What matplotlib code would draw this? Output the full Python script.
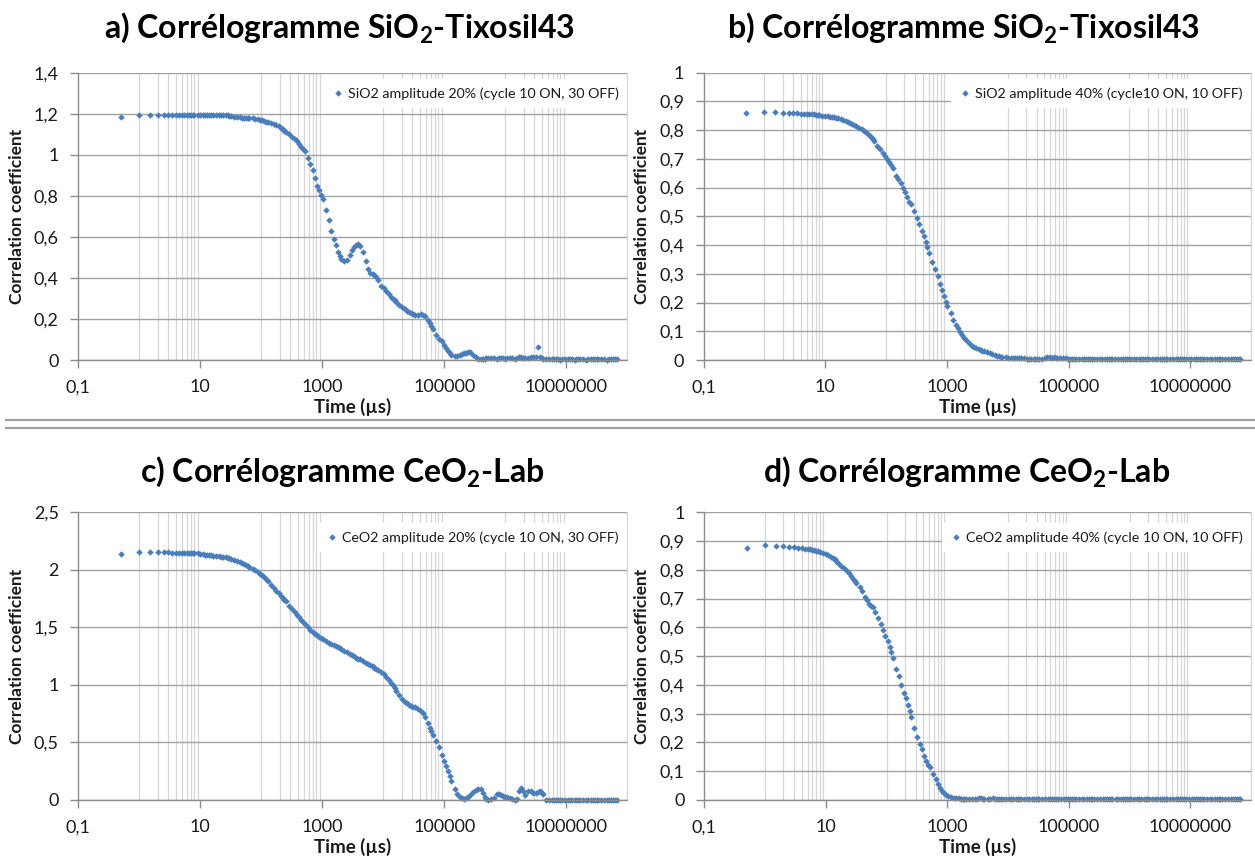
import matplotlib
matplotlib.use("Agg")
import matplotlib.pyplot as plt
from matplotlib.ticker import FixedLocator, FuncFormatter, NullFormatter
from matplotlib.lines import Line2D

# Correlator lag times (µs), shared by all four measurements
LAG_US = [0.5, 1, 1.5, 2, 2.5, 3, 3.5, 4, 4.5, 5, 5.5, 6, 6.5, 7, 7.5, 8,
          9, 10, 11, 12, 13, 14, 15, 16,
          18, 20, 22, 24, 26, 28, 30, 32,
          36, 40, 44, 48, 52, 56, 60, 64,
          72, 80, 88, 96, 104, 112, 120, 128,
          144, 160, 176, 192, 208, 224, 240, 256,
          288, 320, 352, 384, 416, 448, 480, 512,
          576, 640, 704, 768, 832, 896, 960, 1024,
          1152, 1280, 1408, 1536, 1664, 1792, 1920, 2048,
          2304, 2560, 2816, 3072, 3328, 3584, 3840, 4096,
          4608, 5120, 5632, 6144, 6656, 7168, 7680, 8192,
          9216, 10240, 11264, 12288, 13312, 14336, 15360, 16384,
          18432, 20480, 22528, 24576, 26624, 28672, 30720, 32768,
          36864, 40960, 45056, 49152, 53248, 57344, 61440, 65536,
          73728, 81920, 90112, 98304, 106496, 114688, 122880, 131072,
          147456, 163840, 180224, 196608, 212992, 229376, 245760, 262144,
          294912, 327680, 360448, 393216, 425984, 458752, 491520, 524288,
          589824, 655360, 720896, 786432, 851968, 917504, 983040, 1048576,
          1179648, 1310720, 1441792, 1572864, 1703936, 1835008, 1966080, 2097152,
          2359296, 2621440, 2883584, 3145728, 3407872, 3670016, 3932160, 4194304,
          4718592, 5242880, 5767168, 6291456, 6815744, 7340032, 7864320, 8388608,
          9437184, 10485760, 11534336, 12582912, 13631488, 14680064, 15728640, 16777216,
          18874368, 20971520, 23068672, 25165824, 27262976, 29360128, 31457280, 33554432,
          37748736, 41943040, 46137344, 50331648, 54525952, 58720256, 62914560, 67108864]

# a) SiO2 amplitude 20% (cycle 10 ON, 30 OFF)
SIO2_20 = [1.184, 1.193, 1.194, 1.194, 1.194, 1.195, 1.195, 1.195, 1.195, 1.195, 1.195, 1.195, 1.195, 1.195, 1.195, 1.195,
           1.195, 1.195, 1.195, 1.195, 1.195, 1.195, 1.195, 1.195,
           1.195, 1.195, 1.195, 1.194, 1.195, 1.194, 1.190, 1.188,
           1.184, 1.182, 1.182, 1.181, 1.181, 1.181, 1.180, 1.180,
           1.178, 1.176, 1.174, 1.171, 1.168, 1.165, 1.162, 1.159,
           1.155, 1.150, 1.144, 1.138, 1.131, 1.124, 1.117, 1.110,
           1.100, 1.089, 1.077, 1.065, 1.053, 1.040, 1.030, 1.018,
           0.985, 0.955, 0.925, 0.885, 0.850, 0.830, 0.805, 0.785,
           0.730, 0.680, 0.628, 0.590, 0.560, 0.527, 0.506, 0.492,
           0.480, 0.489, 0.512, 0.538, 0.553, 0.562, 0.564, 0.555,
           0.525, 0.484, 0.443, 0.426, 0.418, 0.412, 0.403, 0.392,
           0.363, 0.349, 0.338, 0.322, 0.306, 0.298, 0.290, 0.282,
           0.268, 0.259, 0.250, 0.241, 0.234, 0.227, 0.222, 0.219,
           0.219, 0.223, 0.221, 0.214, 0.197, 0.182, 0.168, 0.150,
           0.122, 0.104, 0.092, 0.075, 0.058, 0.042, 0.033, 0.026,
           0.019, 0.021, 0.024, 0.028, 0.032, 0.036, 0.040, 0.038,
           0.025, 0.015, 0.007, 0.004, 0.004, 0.006, 0.008, 0.010,
           0.011, 0.008, 0.006, 0.010, 0.012, 0.008, 0.005, 0.009,
           0.012, 0.010, 0.006, 0.008, 0.013, 0.015, 0.011, 0.008,
           0.012, 0.016, 0.014, 0.016, 0.062, 0.013, 0.008, 0.005,
           0.004, 0.003, 0.003, 0.004, 0.003, 0.003, 0.002, 0.003,
           0.003, 0.003, 0.004, 0.003, 0.002, 0.003, 0.003, 0.003,
           0.003, 0.002, 0.003, 0.003, 0.003, 0.004, 0.003, 0.003,
           0.003, 0.003, 0.002, 0.003, 0.003, 0.003, 0.003, 0.003]

# b) SiO2 amplitude 40% (cycle 10 ON, 10 OFF)
SIO2_40 = [0.858, 0.863, 0.862, 0.860, 0.859, 0.858, 0.858, 0.857, 0.857, 0.856, 0.856, 0.855, 0.855, 0.854, 0.854, 0.853,
           0.851, 0.850, 0.849, 0.847, 0.846, 0.845, 0.843, 0.842,
           0.839, 0.836, 0.833, 0.829, 0.826, 0.822, 0.818, 0.814,
           0.809, 0.803, 0.796, 0.789, 0.782, 0.776, 0.769, 0.762,
           0.746, 0.734, 0.722, 0.711, 0.700, 0.688, 0.678, 0.667,
           0.642, 0.630, 0.616, 0.600, 0.585, 0.566, 0.551, 0.542,
           0.518, 0.494, 0.472, 0.450, 0.430, 0.410, 0.392, 0.372,
           0.340, 0.316, 0.292, 0.264, 0.243, 0.224, 0.202, 0.188,
           0.165, 0.140, 0.122, 0.110, 0.097, 0.086, 0.077, 0.070,
           0.058, 0.049, 0.044, 0.041, 0.038, 0.035, 0.032, 0.030,
           0.027, 0.023, 0.020, 0.017, 0.015, 0.013, 0.011, 0.010,
           0.009, 0.008, 0.008, 0.007, 0.007, 0.007, 0.006, 0.006,
           0.006, 0.005, 0.005, 0.004, 0.004, 0.003, 0.003, 0.004,
           0.005, 0.007, 0.009, 0.009, 0.008, 0.009, 0.007, 0.006,
           0.006, 0.007, 0.006, 0.005, 0.004, 0.005, 0.004, 0.004,
           0.005, 0.004, 0.004, 0.005, 0.004, 0.003, 0.004, 0.005,
           0.004, 0.004, 0.003, 0.004, 0.005, 0.004, 0.004, 0.003,
           0.004, 0.005, 0.004, 0.003, 0.004, 0.004, 0.005, 0.004,
           0.004, 0.003, 0.004, 0.004, 0.005, 0.004, 0.003, 0.004,
           0.004, 0.004, 0.003, 0.004, 0.004, 0.005, 0.004, 0.004,
           0.003, 0.004, 0.004, 0.004, 0.003, 0.004, 0.004, 0.003,
           0.004, 0.004, 0.003, 0.004, 0.004, 0.003, 0.004, 0.004,
           0.003, 0.004, 0.004, 0.003, 0.004, 0.003, 0.004, 0.003,
           0.004, 0.003, 0.003, 0.004, 0.003, 0.003, 0.004, 0.003]

# c) CeO2 amplitude 20% (cycle 10 ON, 30 OFF)
CEO2_20 = [2.138, 2.155, 2.155, 2.155, 2.155, 2.152, 2.150, 2.150, 2.149, 2.148, 2.148, 2.148, 2.147, 2.147, 2.146, 2.146,
           2.144, 2.140, 2.136, 2.131, 2.128, 2.126, 2.125, 2.123,
           2.120, 2.118, 2.115, 2.112, 2.109, 2.105, 2.100, 2.094,
           2.083, 2.073, 2.065, 2.057, 2.049, 2.040, 2.032, 2.024,
           2.008, 1.995, 1.982, 1.968, 1.953, 1.938, 1.922, 1.905,
           1.868, 1.842, 1.818, 1.797, 1.777, 1.758, 1.741, 1.725,
           1.690, 1.663, 1.632, 1.606, 1.586, 1.567, 1.550, 1.533,
           1.505, 1.480, 1.460, 1.446, 1.432, 1.418, 1.405, 1.396,
           1.382, 1.368, 1.358, 1.345, 1.335, 1.326, 1.317, 1.310,
           1.299, 1.285, 1.270, 1.258, 1.248, 1.238, 1.229, 1.222,
           1.207, 1.193, 1.182, 1.173, 1.161, 1.150, 1.140, 1.130,
           1.110, 1.093, 1.068, 1.043, 1.018, 0.995, 0.970, 0.950,
           0.910, 0.877, 0.853, 0.840, 0.828, 0.820, 0.812, 0.805,
           0.790, 0.775, 0.755, 0.725, 0.665, 0.625, 0.596, 0.565,
           0.512, 0.460, 0.395, 0.335, 0.295, 0.248, 0.205, 0.165,
           0.095, 0.052, 0.025, 0.014, 0.012, 0.016, 0.030, 0.045,
           0.070, 0.085, 0.095, 0.098, 0.058, 0.030, 0.010, 0.002,
           0.008, 0.020, 0.050, 0.055, 0.045, 0.035, 0.028, 0.022,
           0.014, 0.008, 0.002, 0.010, 0.075, 0.105, 0.080, 0.045,
           0.080, 0.075, 0.065, 0.058, 0.070, 0.075, 0.065, 0.055,
           0.003, 0.002, 0.002, 0.002, 0.002, 0.002, 0.002, 0.002,
           0.002, 0.002, 0.002, 0.002, 0.002, 0.002, 0.002, 0.002,
           0.002, 0.002, 0.002, 0.002, 0.002, 0.002, 0.002, 0.002,
           0.002, 0.002, 0.002, 0.002, 0.002, 0.002, 0.002, 0.002]

# d) CeO2 amplitude 40% (cycle 10 ON, 10 OFF)
CEO2_40 = [0.875, 0.885, 0.883, 0.882, 0.880, 0.879, 0.877, 0.876, 0.874, 0.872, 0.871, 0.869, 0.868, 0.866, 0.864, 0.862,
           0.858, 0.855, 0.850, 0.845, 0.841, 0.836, 0.830, 0.823,
           0.813, 0.806, 0.797, 0.788, 0.778, 0.769, 0.761, 0.754,
           0.741, 0.727, 0.707, 0.694, 0.683, 0.676, 0.670, 0.655,
           0.633, 0.612, 0.590, 0.571, 0.552, 0.532, 0.514, 0.495,
           0.457, 0.430, 0.398, 0.373, 0.353, 0.330, 0.311, 0.287,
           0.250, 0.220, 0.195, 0.178, 0.154, 0.137, 0.122, 0.114,
           0.090, 0.072, 0.055, 0.042, 0.033, 0.024, 0.017, 0.013,
           0.009, 0.007, 0.006, 0.006, 0.005, 0.005, 0.004, 0.004,
           0.004, 0.003, 0.004, 0.005, 0.006, 0.006, 0.005, 0.004,
           0.004, 0.005, 0.006, 0.005, 0.004, 0.004, 0.004, 0.003,
           0.004, 0.003, 0.004, 0.004, 0.003, 0.004, 0.004, 0.003,
           0.003, 0.004, 0.004, 0.003, 0.004, 0.003, 0.004, 0.004,
           0.004, 0.003, 0.004, 0.004, 0.003, 0.004, 0.003, 0.004,
           0.003, 0.004, 0.003, 0.004, 0.004, 0.003, 0.004, 0.003,
           0.004, 0.004, 0.003, 0.003, 0.004, 0.004, 0.003, 0.004,
           0.003, 0.004, 0.004, 0.003, 0.003, 0.004, 0.003, 0.004,
           0.004, 0.003, 0.003, 0.004, 0.004, 0.003, 0.004, 0.003,
           0.003, 0.004, 0.003, 0.003, 0.004, 0.003, 0.003, 0.004,
           0.003, 0.003, 0.004, 0.003, 0.003, 0.004, 0.003, 0.003,
           0.004, 0.003, 0.003, 0.003, 0.004, 0.003, 0.003, 0.003,
           0.003, 0.003, 0.004, 0.003, 0.003, 0.003, 0.003, 0.004,
           0.003, 0.003, 0.003, 0.003, 0.004, 0.003, 0.003, 0.003,
           0.003, 0.004, 0.003, 0.003, 0.003, 0.003, 0.003, 0.003]

X_TICKS = [0.1, 10, 1000, 100000, 10000000]
X_TICK_LABELS = ["0,1", "10", "1000", "100000", "10000000"]
Y_TICKS_A = [0, 0.2, 0.4, 0.6, 0.8, 1.0, 1.2, 1.4]
Y_TICKS_C = [0, 0.5, 1.0, 1.5, 2.0, 2.5]
Y_TICKS_BD = [0, 0.1, 0.2, 0.3, 0.4, 0.5, 0.6, 0.7, 0.8, 0.9, 1.0]

TITLES = ["a) Corrélogramme SiO$_{\\mathbf{2}}$-Tixosil43",
          "b) Corrélogramme SiO$_{\\mathbf{2}}$-Tixosil43",
          "c) Corrélogramme CeO$_{\\mathbf{2}}$-Lab",
          "d) Corrélogramme CeO$_{\\mathbf{2}}$-Lab"]
LEGENDS = ["SiO2 amplitude 20% (cycle 10 ON, 30 OFF)",
           "SiO2 amplitude 40% (cycle10 ON, 10 OFF)",
           "CeO2 amplitude 20% (cycle 10 ON, 30 OFF)",
           "CeO2 amplitude 40% (cycle 10 ON, 10 OFF)"]

plt.rcParams["font.family"] = ["Lato", "DejaVu Sans"]
plt.rcParams["mathtext.fontset"] = "custom"
plt.rcParams["mathtext.rm"] = "Lato"
plt.rcParams["mathtext.bf"] = "Lato:bold"

W, H = 1255, 859
fig = plt.figure(figsize=(W / 100, H / 100), dpi=100)
fig.patch.set_facecolor("white")

BLUE = "#4a7ebb"
GRID_MAJOR = "#a3a3a3"
GRID_MINOR = "#d6d6d6"
AXIS_GREY = "#8c8c8c"
TEXT = "#1a1a1a"


def px_axes(x0, y0, x1, y1):
    return fig.add_axes([x0 / W, 1 - y1 / H, (x1 - x0) / W, (y1 - y0) / H])


def comma(v, _pos):
    return f"{v:g}".replace(".", ",")


# (pixel box, series, y ticks, title centre x, title baseline y, ylabel x, xlabel y)
panels = [
    ((78.3, 72.7, 627.3, 360.0), SIO2_20, Y_TICKS_A, 340, 38, 17, 406.7),
    ((703.5, 72.7, 1251.0, 360.0), SIO2_40, Y_TICKS_BD, 964, 38, 642, 406.7),
    ((78.3, 512.3, 627.3, 800.0), CEO2_20, Y_TICKS_C, 342, 482, 17, 846.7),
    ((704.3, 512.3, 1251.0, 800.0), CEO2_40, Y_TICKS_BD, 967, 482, 642, 846.7),
]

minor_grid = [k * 10.0 ** e for e in (0, 2, 4, 6, 8) for k in range(1, 10)]

for i, (box, series, yticks, tx, ty, ylx, xly) in enumerate(panels):
    ax = px_axes(*box)
    ax.plot(LAG_US, series, linestyle="none", marker="D", markersize=3.3,
            markeredgewidth=0, color=BLUE, label=LEGENDS[i], clip_on=False)
    ax.set_xscale("log")
    ax.set_xlim(0.1, 1e8)
    ax.set_ylim(yticks[0], yticks[-1])

    ax.xaxis.set_major_locator(FixedLocator(X_TICKS))
    ax.set_xticklabels(X_TICK_LABELS)
    ax.xaxis.set_minor_locator(FixedLocator(minor_grid))
    ax.xaxis.set_minor_formatter(NullFormatter())
    ax.yaxis.set_major_locator(FixedLocator(yticks))
    ax.yaxis.set_major_formatter(FuncFormatter(comma))

    ax.set_axisbelow(True)
    ax.grid(which="minor", axis="x", color=GRID_MINOR, linewidth=0.9)
    ax.grid(which="major", axis="x", visible=False)
    ax.grid(which="major", axis="y", color=GRID_MAJOR, linewidth=1.0)
    ax.tick_params(which="minor", length=0)
    ax.tick_params(which="major", direction="out", length=6, width=1,
                   color=AXIS_GREY, labelsize=13, labelcolor=TEXT)
    ax.tick_params(axis="x", pad=8)
    ax.tick_params(axis="y", pad=8)

    for side in ("left", "bottom"):
        ax.spines[side].set_color(AXIS_GREY)
        ax.spines[side].set_linewidth(1.0)
    ax.spines["top"].set_visible(False)
    ax.spines["right"].set_color(GRID_MINOR)

    ax_h = box[3] - box[1]
    leg_y = (box[3] - (ty + 55.5)) / ax_h
    ax.legend(loc="center right", bbox_to_anchor=(1.0, leg_y), frameon=True,
              fancybox=False, edgecolor="none", facecolor="white", framealpha=1,
              fontsize=10.3, handlelength=0.7, handletextpad=0.35,
              borderpad=0.6, borderaxespad=0.0, labelcolor=TEXT)

    fig.text(tx / W, 1 - ty / H, TITLES[i], ha="center", va="baseline",
             fontsize=23, fontweight="bold", color="black")
    fig.text(ylx / W, 1 - ((box[1] + box[3]) / 2) / H, "Correlation coefficient",
             rotation=90, ha="center", va="center", fontsize=12.5,
             fontweight="bold", color=TEXT)
    fig.text(((box[0] + box[2]) / 2) / W, 1 - xly / H, "Time (µs)",
             ha="center", va="center", fontsize=13.5, fontweight="bold", color=TEXT)

# double rule separating the two rows of charts
for y in (420.0, 427.7):
    fig.add_artist(Line2D([6 / W, 1.0], [1 - y / H, 1 - y / H],
                          transform=fig.transFigure, color="#a0a0a0", linewidth=1.6))

fig.savefig("out.png", dpi=100, facecolor="white")
